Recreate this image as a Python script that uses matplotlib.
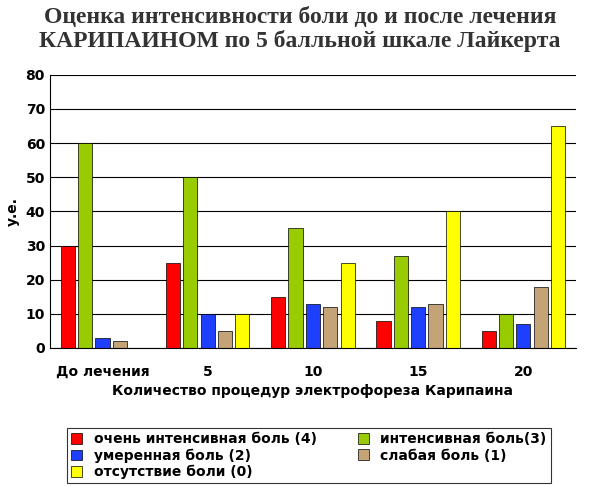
import matplotlib
matplotlib.use("Agg")
import matplotlib.pyplot as plt
import numpy as np

categories = ["До лечения", "5", "10", "15", "20"]
very_intense = [30, 25, 15, 8, 5]
intense = [60, 50, 35, 27, 10]
moderate = [3, 10, 13, 12, 7]
weak = [2, 5, 12, 13, 18]
none_pain = [0, 10, 25, 40, 65]
series_labels = ["очень интенсивная боль (4)", "интенсивная боль(3)", "умеренная боль (2)",
                 "слабая боль (1)", "отсутствие боли (0)"]
colors = ["#FF0000", "#99CC00", "#1F3FFF", "#C4A377", "#FFFF00"]

fig = plt.figure(figsize=(6, 4.86), dpi=100)
ax = fig.add_axes([0.083, 0.284, 0.877, 0.562])
x = np.arange(len(categories))
step = 0.165
w = 0.135
bars = []
for i, vals in enumerate([very_intense, intense, moderate, weak, none_pain]):
    b = ax.bar(x + (i - 2) * step, vals, w, color=colors[i], edgecolor="black", linewidth=0.5,
               label=series_labels[i])
    bars.append(b)
ax.set_xlim(-0.5, 4.5)
ax.set_ylim(0, 80)
ax.set_yticks(range(0, 81, 10))
ax.set_xticks(x)
ax.set_xticklabels(categories)
ax.tick_params(labelsize=10, length=0)
for lbl in ax.get_xticklabels() + ax.get_yticklabels():
    lbl.set_fontweight("bold")
ax.tick_params(axis="x", pad=12)
ax.grid(axis="y", color="black", linewidth=0.8)
ax.set_axisbelow(True)
for s in ["top", "right"]:
    ax.spines[s].set_visible(False)
ax.set_ylabel("у.е.", fontweight="bold", fontsize=10, labelpad=4)
ax.set_xlabel("Количество процедур электрофореза Карипаина", fontweight="bold", fontsize=10, labelpad=4)

fig.text(0.5, 0.965, "Оценка интенсивности боли до и после лечения",
         ha="center", va="center", fontsize=17, fontweight="bold", family="Liberation Serif", color="#333333")
fig.text(0.5, 0.915, "КАРИПАИНОМ по 5 балльной шкале Лайкерта",
         ha="center", va="center", fontsize=17, fontweight="bold", family="Liberation Serif", color="#333333")

order = [0, 2, 4, 1, 3]
leg = fig.legend([bars[i] for i in order], [series_labels[i] for i in order], ncol=2,
                 loc="center", bbox_to_anchor=(0.515, 0.062), frameon=True, fancybox=False,
                 edgecolor="black", prop={"weight": "bold", "size": 10},
                 handlelength=0.8, handleheight=0.8, columnspacing=3, labelspacing=0.15,
                 borderpad=0.3)
leg.get_frame().set_linewidth(0.8)
fig.savefig("out.png", dpi=100)
